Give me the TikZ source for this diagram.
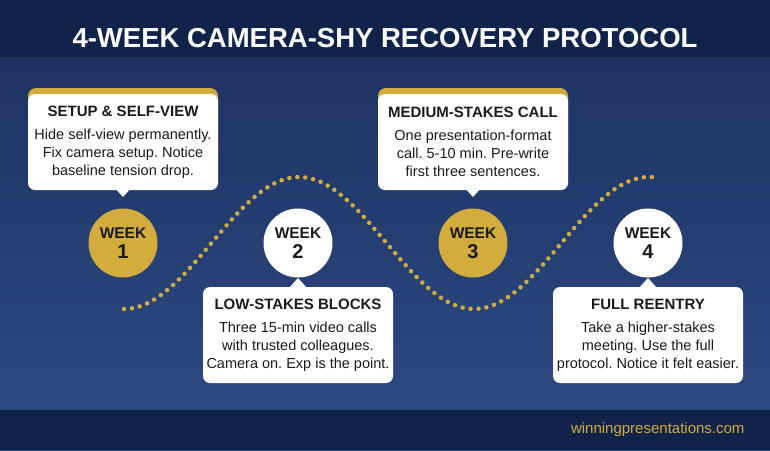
\documentclass[tikz,border=0pt]{standalone}
\usepackage{fontspec}
\setmainfont{Liberation Sans}
\frenchspacing
\definecolor{navytop}{HTML}{1B2F5E}
\definecolor{navybot}{HTML}{2E4C84}
\definecolor{band}{HTML}{12234A}
\definecolor{gold}{HTML}{D2AC3C}
\definecolor{ink}{HTML}{1A1A1A}
\begin{document}
\begin{tikzpicture}[x=1pt,y=-1pt,
    card/.style={fill=white, rounded corners=7pt, minimum width=190pt, minimum height=96pt,
        align=center, text=ink, font=\fontsize{14.5}{18}\selectfont, inner sep=2pt},
    week/.style={circle, minimum size=69pt, inner sep=0pt, align=center, text=ink,
        font=\bfseries\fontsize{15.5}{17}\selectfont},
    goldweek/.style={week, fill=gold},
    whiteweek/.style={week, fill=white}]

    % Background
    \shade[top color=navytop, bottom color=navybot] (0,0) rectangle (770,450);
    \fill[band] (0,0) rectangle (770,57);
    \fill[band] (0,410) rectangle (770,450);
    \useasboundingbox (0,0) rectangle (770,450);

    % Title and footer
    \node[text=white, font=\bfseries\fontsize{27.5}{30}\selectfont] (title) at (385,38) {4-WEEK CAMERA-SHY RECOVERY PROTOCOL};
    \node[text=gold, font=\fontsize{15}{16}\selectfont, anchor=east] (site) at (748,430) {winningpresentations.com};

    % Dotted wave
    \draw[gold, line width=4.5pt, line cap=round, dash pattern=on 0pt off 8pt]
        plot[domain=124:655, samples=120] (\x, {243+66*cos(1.0286*(\x-124))});

    % Week circles
    \node[goldweek]  (w1) at (123,243) {WEEK\\[3pt]{\fontsize{20}{20}\selectfont 1}};
    \node[whiteweek] (w2) at (298,243) {WEEK\\[3pt]{\fontsize{20}{20}\selectfont 2}};
    \node[goldweek]  (w3) at (473,243) {WEEK\\[3pt]{\fontsize{20}{20}\selectfont 3}};
    \node[whiteweek] (w4) at (648,243) {WEEK\\[3pt]{\fontsize{20}{20}\selectfont 4}};

    % Gold top edge on upper cards, pointers on all
    \foreach \cx in {123,473}
        \fill[gold, rounded corners=8pt] (\cx-95,88) rectangle (\cx+95,160);
    \foreach \cx/\cy/\dir in {123/140/1, 298/335/-1, 473/140/1, 648/335/-1}
        \fill[white] (\cx-9,\cy+\dir*47) -- (\cx,\cy+\dir*57) -- (\cx+9,\cy+\dir*47) -- cycle;

    \node[card] (c1) at (123,142) {{\bfseries\fontsize{15}{18}\selectfont SETUP \& SELF-VIEW}\\[5pt]
        Hide self-view permanently.\\Fix camera setup. Notice\\baseline tension drop.};
    \node[card] (c2) at (298,335) {{\bfseries\fontsize{15}{18}\selectfont LOW-STAKES BLOCKS}\\[5pt]
        Three 15-min video calls\\with trusted colleagues.\\Camera on. Exp is the point.};
    \node[card] (c3) at (473,142) {{\bfseries\fontsize{15}{18}\selectfont MEDIUM-STAKES CALL}\\[5pt]
        One presentation-format\\call. 5-10 min. Pre-write\\first three sentences.};
    \node[card] (c4) at (648,335) {{\bfseries\fontsize{15}{18}\selectfont FULL REENTRY}\\[5pt]
        Take a higher-stakes\\meeting. Use the full\\protocol. Notice it felt easier.};
\end{tikzpicture}
\end{document}
